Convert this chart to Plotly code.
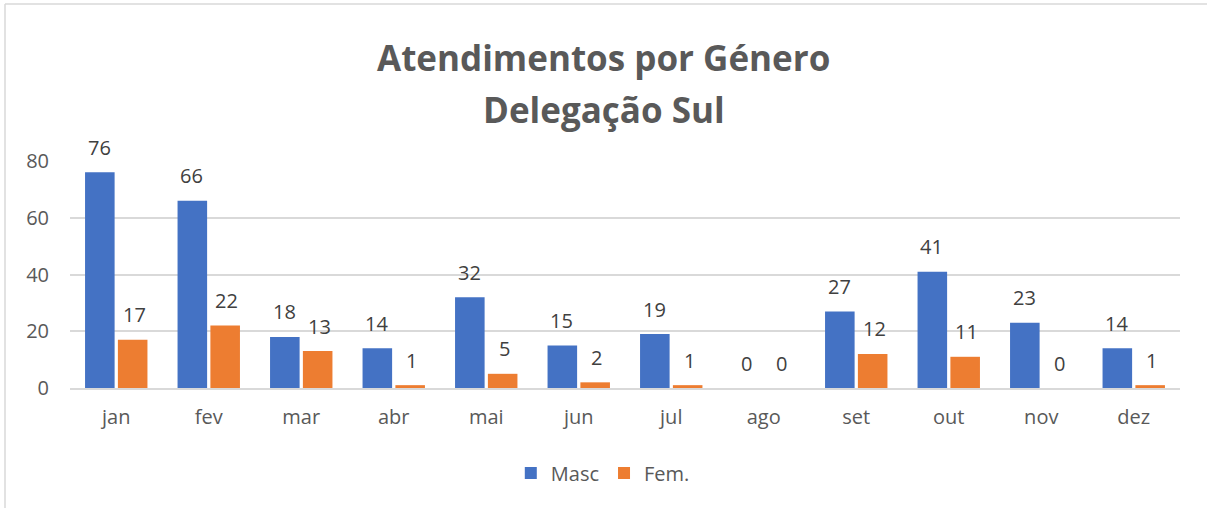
import plotly.graph_objects as go

months = ["jan", "fev", "mar", "abr", "mai", "jun", "jul", "ago", "set", "out", "nov", "dez"]
masc = [76, 66, 18, 14, 32, 15, 19, 0, 27, 41, 23, 14]
fem = [17, 22, 13, 1, 5, 2, 1, 0, 12, 11, 0, 1]
y_ticks = [0, 20, 40, 60, 80]

FONT = "Open Sans"
BLUE = "#4472C4"
ORANGE = "#ED7D31"

fig = go.Figure()
fig.add_trace(go.Bar(name="Masc", x=months, y=masc, marker=dict(color=BLUE, line=dict(width=0))))
fig.add_trace(go.Bar(name="Fem.", x=months, y=fem, marker=dict(color=ORANGE, line=dict(width=0))))

annotations = []
for m, v in zip(months, masc):
    annotations.append(dict(x=m, y=v, xref="x", yref="y", text=str(v), showarrow=False,
                            xshift=-17, yshift=25, yanchor="middle",
                            font=dict(family=FONT, size=20, color="#404040")))
for m, v in zip(months, fem):
    annotations.append(dict(x=m, y=v, xref="x", yref="y", text=str(v), showarrow=False,
                            xshift=18, yshift=25, yanchor="middle",
                            font=dict(family=FONT, size=20, color="#404040")))

# title lines
annotations.append(dict(x=0.481, y=(388 - 57) / 227, xref="paper", yref="paper",
                        text="<b>Atendimentos por Género</b>", showarrow=False,
                        yanchor="middle", font=dict(family=FONT, size=35, color="#595959")))
annotations.append(dict(x=0.481, y=(388 - 109) / 227, xref="paper", yref="paper",
                        text="<b>Delegação Sul</b>", showarrow=False,
                        yanchor="middle", font=dict(family=FONT, size=35, color="#595959")))

bx0 = (5 - 70) / 1110
bx1 = (1260 - 70) / 1110
by0 = (388 - 540) / 227
by1 = (388 - 4) / 227
border = dict(color="#D9D9D9", width=1.5)

fig.update_layout(
    width=1207, height=508,
    margin=dict(l=70, r=27, t=161, b=120),
    paper_bgcolor="white", plot_bgcolor="white",
    barmode="group", bargap=0.29, bargroupgap=0.1,
    font=dict(family=FONT, size=20, color="#595959"),
    showlegend=True,
    legend=dict(orientation="h", x=0.48, xanchor="center", y=(388 - 473) / 227, yanchor="middle",
                font=dict(family=FONT, size=20, color="#595959"), itemsizing="constant",
                traceorder="normal", itemwidth=30),
    annotations=annotations,
    shapes=[
        dict(type="line", xref="paper", yref="paper", x0=bx0, x1=bx1, y0=by1, y1=by1, line=border, layer="below"),
        dict(type="line", xref="paper", yref="paper", x0=bx0, x1=bx0, y0=by0, y1=by1, line=border, layer="below"),
    ],
)
fig.update_xaxes(showgrid=False, showline=True, linecolor="#D9D9D9", linewidth=1.5,
                 ticks="", tickfont=dict(family=FONT, size=20, color="#595959"), ticklabelstandoff=10)
fig.update_yaxes(range=[0, 80], tickvals=y_ticks, showgrid=True, gridcolor="#D9D9D9", gridwidth=1.5,
                 zeroline=False, showline=False, ticks="", ticklabelstandoff=20,
                 tickfont=dict(family=FONT, size=20, color="#595959"))

fig.write_html("out.html", config={"displayModeBar": False},
               post_script="document.body.style.margin='0';")
